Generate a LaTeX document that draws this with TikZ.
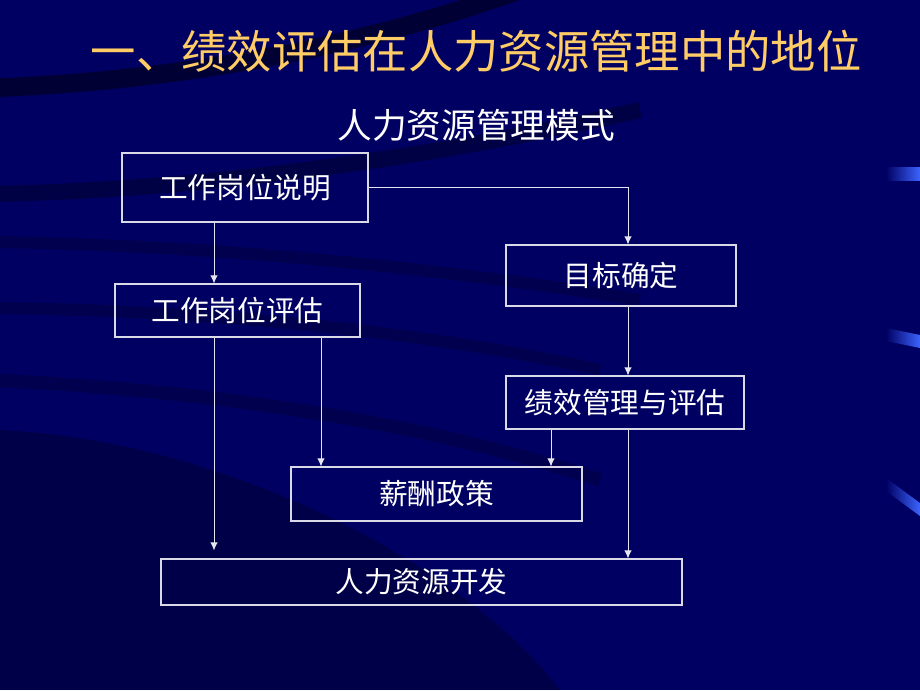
\documentclass[tikz,border=0pt]{standalone}
\usepackage{fontspec}
\setmainfont{Noto Sans CJK SC}
\usetikzlibrary{arrows.meta}

\definecolor{slidebg}{RGB}{0,0,98}
\definecolor{titlegold}{RGB}{255,204,102}
\definecolor{tabblue}{RGB}{60,100,255}

\begin{document}
\begin{tikzpicture}[
        x = 0.75pt, y = -0.75pt, % pixel grid of the slide
        > = {Latex[length=6pt,width=5.5pt]}, % arrow head style
        semithick % line style
    ]

    \tikzstyle{box}=[
        draw = white!85!slidebg,
        line width = 0.8pt,
        text = white,
        font = \fontsize{21.5}{24}\selectfont,
        inner sep = 0pt
    ]
    \tikzstyle{flow}=[->, white!90!slidebg, line width = 0.7pt]
    \tikzstyle{streak}=[black]
    \tikzstyle{tab}=[left color = slidebg, right color = tabblue]

    \useasboundingbox (0,0) rectangle (920,690);

    % background and its streaks
    \begin{scope}
        \clip (0,0) rectangle (920,690);
        \fill[slidebg] (0,0) rectangle (920,690);
        \fill[black, opacity = 0.25] (0,430) .. controls (220,440) and (460,560) .. (560,690) -- (0,690) -- cycle;
        \draw[streak, opacity = 0.45, line width = 14pt] (-10,88) .. controls (200,80) and (380,40) .. (520,-10);
        \draw[streak, opacity = 0.3, line width = 12pt] (-10,194) .. controls (200,190) and (420,160) .. (640,110);
        \draw[streak, opacity = 0.2, line width = 9pt] (-10,242) .. controls (200,245) and (420,265) .. (640,300);
        \draw[streak, opacity = 0.2, line width = 9pt] (-10,308) .. controls (200,310) and (420,330) .. (600,370);
        \draw[streak, opacity = 0.2, line width = 10pt] (-10,380) .. controls (200,390) and (420,420) .. (600,480);
    \end{scope}

    % tabs on the right edge
    \shade[tab] (886,167) rectangle (920,180);
    \shade[tab] (886,328) -- (920,335) -- (920,348) -- (886,341) -- cycle;
    \shade[tab] (886,478) -- (920,503) -- (920,516) -- (886,491) -- cycle;

    \node[text = titlegold, font = \fontsize{34}{40}\selectfont] (title) at (476,51) {一、绩效评估在人力资源管理中的地位};
    \node[text = white, font = \fontsize{26}{30}\selectfont] (subtitle) at (476,125) {人力资源管理模式};

    \node[box, minimum width = 184.5pt, minimum height = 51.75pt] (desc) at (245,187.5) {工作岗位说明};
    \node[box, minimum width = 183.75pt, minimum height = 39.75pt] (jobeval) at (237.5,310.5) {工作岗位评估};
    \node[box, minimum width = 172.5pt, minimum height = 45.75pt] (goal) at (621,275.5) {目标确定};
    \node[box, minimum width = 178.5pt, minimum height = 39.75pt] (perf) at (625,402.5) {绩效管理与评估};
    \node[box, minimum width = 218.25pt, minimum height = 40.5pt] (pay) at (436.5,494) {薪酬政策};
    \node[box, minimum width = 390.75pt, minimum height = 34.5pt] (devel) at (421.5,582) {人力资源开发};

    % vertical lanes of the arrows
    \coordinate (lanea) at (214,0);
    \coordinate (laneb) at (321,0);
    \coordinate (lanec) at (551,0);
    \coordinate (laned) at (628,0);

    \draw[flow] (desc.south -| lanea) -- (jobeval.north -| lanea);
    \draw[flow] (desc.east) -| (goal.north -| laned);
    \draw[flow] (goal.south -| laned) -- (perf.north -| laned);
    \draw[flow] (perf.south -| lanec) -- (pay.north -| lanec);
    \draw[flow] (perf.south -| laned) -- (devel.north -| laned);
    \draw[flow] (jobeval.south -| laneb) -- (pay.north -| laneb);
    \draw[flow, shorten > = 6pt] (jobeval.south -| lanea) -- (devel.north -| lanea);

\end{tikzpicture}
\end{document}
